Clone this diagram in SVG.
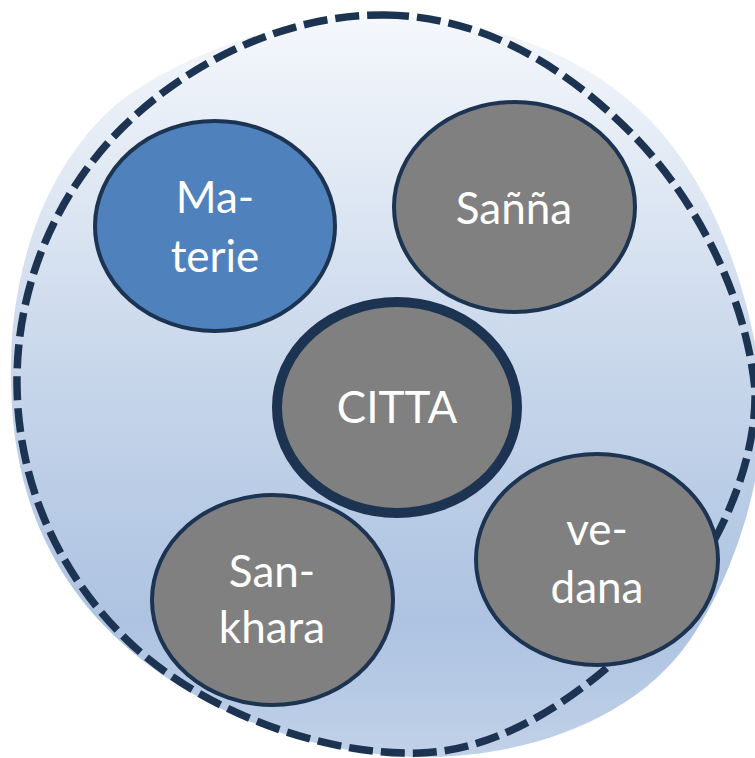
<svg xmlns="http://www.w3.org/2000/svg" width="755" height="758" viewBox="0 0 755 758">
  <defs>
    <linearGradient id="blobFill" x1="0" y1="14" x2="0" y2="757" gradientUnits="userSpaceOnUse">
      <stop offset="0" stop-color="#f5f8fc"/>
      <stop offset="0.5" stop-color="#c6d5ea"/>
      <stop offset="0.82" stop-color="#adc3e1"/>
      <stop offset="1" stop-color="#c1d1e8"/>
    </linearGradient>
    <style>
      .node { stroke: #1c3451; stroke-width: 4; }
      .grey { fill: #808080; }
      .blue { fill: #4f81bd; }
      .label { font-family: Lato, "Open Sans", "Liberation Sans", sans-serif; font-size: 44px; fill: #ffffff; text-anchor: middle; }
    </style>
  </defs>
  <g id="container">
    <path d="M370,14 C470,17 572,43 645,115 C718,187 752,300 762,390 C768,470 735,575 690,640 C635,720 525,758 420,757 C315,756 198,712 122,643 C46,574 13,487 11,385 C8,280 40,175 110,110 C155,68 270,18 370,14 Z" fill="url(#blobFill)"/>
    <path d="M385,15 C480,16 563,64 632,134 C701,204 747,303 755,390 C757,455 725,540 672,602 C615,670 520,750 420,753 C320,756 198,709 127,640 C56,571 18,480 17,385 C16,290 53,197 122,128 C191,59 290,14 385,15 Z" fill="none" stroke="#1c3451" stroke-width="7.5" stroke-dasharray="24 8"/>
  </g>
  <g id="connectors"/>
  <g id="node-materie">
    <ellipse class="node blue" cx="215" cy="226" rx="120" ry="105"/>
    <text class="label" x="215" y="213">Ma-</text>
    <text class="label" x="215" y="272">terie</text>
  </g>
  <g id="node-sanna">
    <ellipse class="node grey" cx="514.5" cy="207" rx="120.5" ry="105"/>
    <text class="label" x="514" y="224">Sañña</text>
  </g>
  <g id="node-citta">
    <ellipse class="grey" cx="397" cy="407.5" rx="120" ry="105.5" stroke="#1c3451" stroke-width="10"/>
    <text class="label" x="397" y="423">CITTA</text>
  </g>
  <g id="node-sankhara">
    <ellipse class="node grey" cx="272.5" cy="600" rx="120.5" ry="105"/>
    <text class="label" x="272" y="587">San-</text>
    <text class="label" x="272" y="643">khara</text>
  </g>
  <g id="node-vedana">
    <ellipse class="node grey" cx="597" cy="559.5" rx="121" ry="105.5"/>
    <text class="label" x="597" y="545">ve-</text>
    <text class="label" x="597" y="603">dana</text>
  </g>
</svg>
